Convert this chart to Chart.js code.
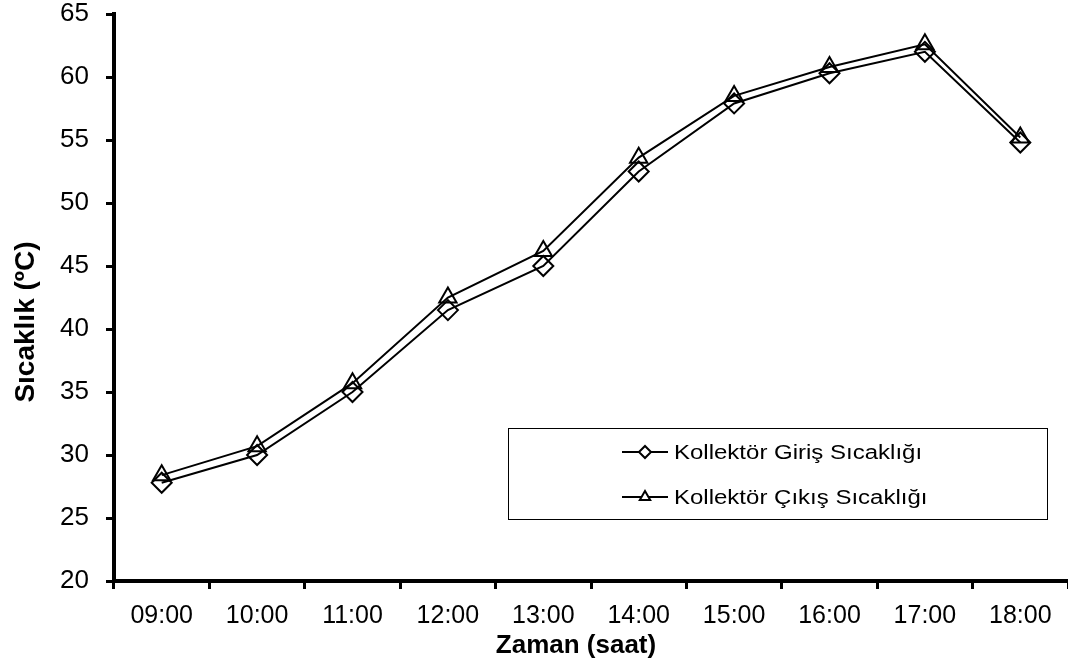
<!DOCTYPE html>
<html>
<head>
<meta charset="utf-8">
<script src="https://cdn.jsdelivr.net/npm/chart.js@4"></script>
<style>
    body { margin: 0; overflow: hidden; background: #fff; }
</style>
</head>
<body>
<canvas id="chart" width="1080" height="669"></canvas>
<script>
// saatler
const hours = ["09:00", "10:00", "11:00", "12:00", "13:00", "14:00", "15:00", "16:00", "17:00", "18:00"];
// Kollektör giriş / çıkış sıcaklıkları (°C)
const inletTemp = [27.8, 30.0, 35.0, 41.5, 45.0, 52.5, 57.9, 60.3, 62.0, 54.8];
const outletTemp = [28.4, 30.7, 35.7, 42.5, 46.2, 53.6, 58.5, 60.8, 62.6, 55.2];
const yTicks = [20, 25, 30, 35, 40, 45, 50, 55, 60, 65];
const xTitle = "Zaman (saat)";
const yTitle = "Sıcaklık (ºC)";

const font = "'Liberation Sans', Arial, sans-serif";

// legend box + axis titles, placed like the original
const boxLegend = {
    id: "boxLegend",
    afterDraw(chart) {
        const ctx = chart.ctx;
        ctx.save();
        ctx.strokeStyle = "#000";
        ctx.lineWidth = 1;
        ctx.strokeRect(508.5, 428.5, 539, 91);
        chart.data.datasets.forEach((ds, i) => {
            const y = 452 + i * 45;
            ctx.lineWidth = 2;
            ctx.beginPath();
            ctx.moveTo(622, y);
            ctx.lineTo(668, y);
            ctx.stroke();
            ctx.fillStyle = "#fff";
            Chart.helpers.drawPoint(ctx, {
                pointStyle: ds.pointStyle,
                radius: 6,
                borderWidth: 1.2
            }, 645, y);
            ctx.save();
            ctx.fillStyle = "#000";
            ctx.font = "20px " + font;
            ctx.textBaseline = "middle";
            ctx.translate(674, y + 1);
            ctx.scale(1.2, 1);
            ctx.fillText(ds.label, 0, 0);
            ctx.restore();
        });

        ctx.fillStyle = "#000";
        ctx.textAlign = "center";
        ctx.textBaseline = "middle";
        ctx.font = "bold 26px " + font;
        ctx.fillText(xTitle, 576, 646);

        ctx.save();
        ctx.translate(25, 322);
        ctx.rotate(-Math.PI / 2);
        ctx.font = "bold 28px " + font;
        ctx.fillText(yTitle, 0, 1);
        ctx.restore();
        ctx.restore();
    }
};

new Chart(document.getElementById("chart").getContext("2d"), {
    type: "line",
    data: {
        labels: hours,
        datasets: [{
            label: "Kollektör Giriş Sıcaklığı",
            data: inletTemp,
            borderColor: "#000",
            borderWidth: 2,
            pointStyle: "rectRot",
            pointRadius: 10,
            pointBorderWidth: 2,
            pointBorderColor: "#000",
            pointBackgroundColor: "rgba(0,0,0,0)",
            tension: 0
        }, {
            label: "Kollektör Çıkış Sıcaklığı",
            data: outletTemp,
            borderColor: "#000",
            borderWidth: 2,
            pointStyle: "triangle",
            pointRadius: 10,
            pointBorderWidth: 2,
            pointBorderColor: "#000",
            pointBackgroundColor: "rgba(0,0,0,0)",
            tension: 0
        }]
    },
    options: {
        responsive: false,
        animation: false,
        layout: { padding: { top: 14, right: 4, left: 0, bottom: 0 } },
        plugins: {
            legend: { display: false },
            tooltip: { enabled: false }
        },
        scales: {
            x: {
                offset: true,
                grid: { offset: true, drawOnChartArea: false, tickLength: 8, color: "#000", lineWidth: 3 },
                border: { color: "#000", width: 4 },
                ticks: { color: "#000", font: { family: font, size: 25 }, padding: 12, maxRotation: 0 },
                afterFit(scale) {
                    scale.height = 88;
                    scale.paddingLeft = 0;
                    scale.paddingRight = 0;
                }
            },
            y: {
                min: 20,
                max: 65,
                afterBuildTicks(scale) { scale.ticks = yTicks.map(v => ({ value: v })); },
                grid: { drawOnChartArea: false, tickLength: 8, color: "#000", lineWidth: 3 },
                border: { color: "#000", width: 4 },
                ticks: { color: "#000", font: { family: font, size: 26 }, padding: 17 },
                afterFit(scale) {
                    scale.width = 114;
                    scale.paddingTop = 0;
                    scale.paddingBottom = 0;
                }
            }
        }
    },
    plugins: [boxLegend]
});
</script>
</body>
</html>
